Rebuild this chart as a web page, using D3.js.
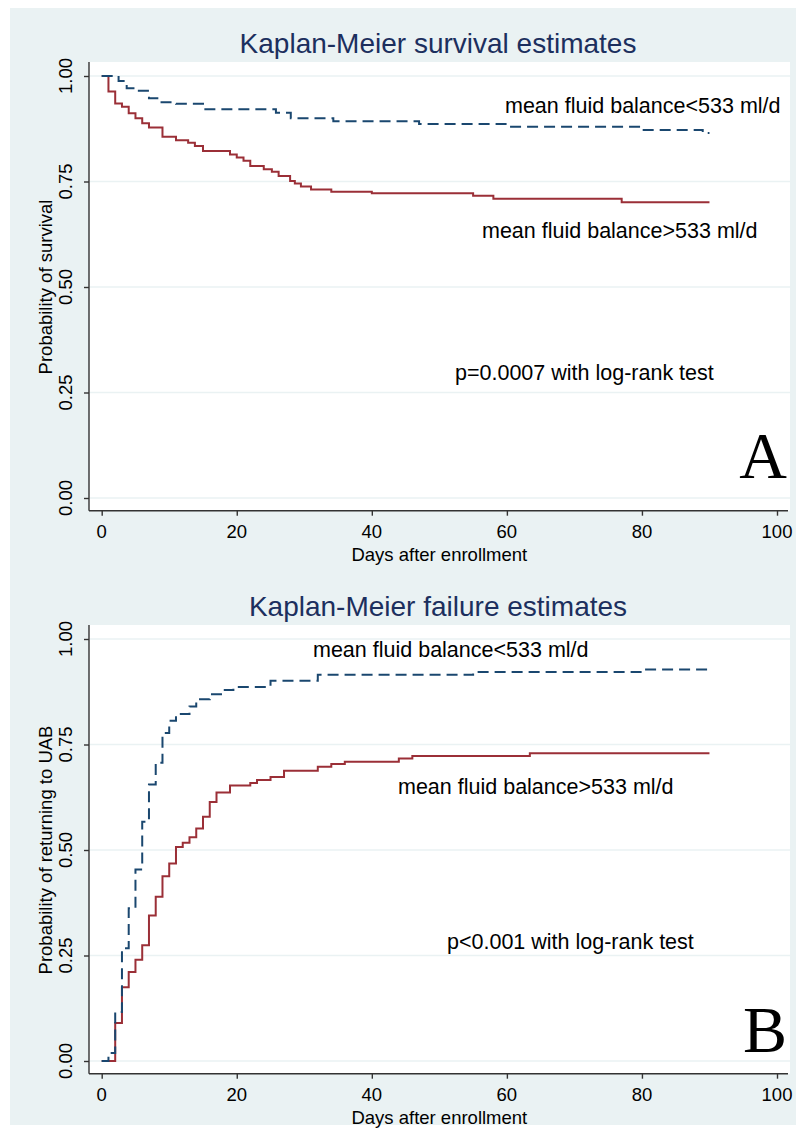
<!DOCTYPE html>
<html lang="en">
<head>
  <meta charset="utf-8">
  <title>Kaplan-Meier estimates</title>
  <script src="https://d3js.org/d3.v7.min.js"></script>
  <style>
    body { margin: 0; background: #fff; }
    text { font-family: "Liberation Sans", Arial, sans-serif; }
    text.letter { font-family: "Liberation Serif", "Times New Roman", serif; }
  </style>
</head>
<body>
<script>
// step points (day, probability); last point = end of follow-up
var survLowDays  = [0, 2.5, 3.7, 5.5, 7, 8.5, 11, 15, 25.8, 28, 34.3, 47, 60, 80, 89, 90];
var survLowProb  = [1, 0.988, 0.971, 0.965, 0.947, 0.938, 0.934, 0.921, 0.913, 0.900, 0.893, 0.886, 0.880, 0.872, 0.865, 0.865];
var survHighDays = [0, 1, 2, 3, 4, 5, 6, 7, 9, 11, 12.8, 13.8, 15, 19, 20, 21, 22, 24, 25.2, 26.2, 27.9, 28.6, 29.5, 31, 34, 40, 55, 58, 77, 90];
var survHighProb = [1, 0.963, 0.935, 0.927, 0.912, 0.900, 0.888, 0.878, 0.856, 0.848, 0.842, 0.834, 0.822, 0.814, 0.807, 0.799, 0.787, 0.779, 0.773, 0.763, 0.751, 0.745, 0.738, 0.731, 0.726, 0.722, 0.716, 0.709, 0.701, 0.701];

var failLowDays  = [0, 1, 2, 3, 4, 5, 6, 7, 8, 9, 10, 11, 13, 14, 16, 18, 19.5, 25, 32, 55, 80, 90];
var failLowProb  = [0, 0.019, 0.116, 0.267, 0.362, 0.454, 0.567, 0.655, 0.707, 0.777, 0.806, 0.822, 0.840, 0.857, 0.869, 0.879, 0.886, 0.901, 0.915, 0.922, 0.928, 0.928];
var failHighDays = [0, 2, 3, 4, 5, 6, 7, 8, 9, 10, 11, 12, 13, 14, 15, 16, 17, 19, 22, 23, 25, 27, 32, 34, 36, 44, 46, 63.4, 90];
var failHighProb = [0, 0.090, 0.175, 0.211, 0.240, 0.274, 0.345, 0.389, 0.438, 0.468, 0.507, 0.517, 0.530, 0.551, 0.579, 0.614, 0.636, 0.653, 0.659, 0.666, 0.673, 0.688, 0.697, 0.704, 0.709, 0.717, 0.723, 0.729, 0.729];

var xTicks = [0, 20, 40, 60, 80, 100];
var yTicks = [0, 0.25, 0.5, 0.75, 1];
var yTickLabels = ["0.00", "0.25", "0.50", "0.75", "1.00"];

var W = 796, H = 1131;
var bg = "#eaf2f3", navy = "#1a476f", maroon = "#9b2f37";

var svg = d3.select("body").append("svg")
  .attr("width", W)
  .attr("height", H);

svg.append("rect")
  .attr("x", 10).attr("y", 8)
  .attr("width", W - 10).attr("height", 1117)
  .attr("fill", bg);

function pairs(days, probs) {
  return days.map(function(d, i) { return [d, probs[i]]; });
}

function drawPanel(top, o) {
  var g = svg.append("g").attr("transform", "translate(0," + top + ")");

  var x = d3.scaleLinear().domain([0, 100]).range([101.7, 777]);
  var y = d3.scaleLinear().domain([0, 1]).range([498, 76]);

  // plot region
  g.append("rect")
    .attr("x", 89).attr("y", 62)
    .attr("width", 790 - 89).attr("height", 510.7 - 62)
    .attr("fill", "#fff");

  // grid
  g.selectAll(".grid").data(yTicks).enter().append("line")
    .attr("x1", 90).attr("x2", 790)
    .attr("y1", function(d) { return y(d); })
    .attr("y2", function(d) { return y(d); })
    .attr("stroke", bg).attr("stroke-width", 1.6);

  // title
  g.append("text")
    .attr("x", 438).attr("y", 53)
    .attr("text-anchor", "middle")
    .attr("font-size", 28)
    .attr("fill", "#1c2f5e")
    .text(o.title);

  // y axis
  var yAxis = g.append("g").attr("transform", "translate(89,0)")
    .call(d3.axisLeft(y).tickValues(yTicks).tickSize(5).tickFormat(""));
  yAxis.select(".domain").attr("d", "M0,62V510.7");
  yAxis.selectAll("line, path").attr("stroke", "#333").attr("stroke-width", 1.4);

  g.selectAll(".ylab").data(yTicks).enter().append("text")
    .attr("transform", function(d) { return "translate(72," + y(d) + ") rotate(-90)"; })
    .attr("text-anchor", "middle")
    .attr("font-size", 18.5)
    .text(function(d, i) { return yTickLabels[i]; });

  g.append("text")
    .attr("transform", "translate(52," + y(0.5) + ") rotate(-90)")
    .attr("text-anchor", "middle")
    .attr("font-size", 18.5)
    .text(o.ytitle);

  // x axis
  var xAxis = g.append("g").attr("transform", "translate(0,510.7)")
    .call(d3.axisBottom(x).tickValues(xTicks).tickSize(5).tickFormat(""));
  xAxis.select(".domain").attr("d", "M89,0H788");
  xAxis.selectAll("line, path").attr("stroke", "#333").attr("stroke-width", 1.4);

  g.selectAll(".xlab").data(xTicks).enter().append("text")
    .attr("x", function(d) { return x(d); })
    .attr("y", 538)
    .attr("text-anchor", "middle")
    .attr("font-size", 18.5)
    .text(function(d) { return d; });

  g.append("text")
    .attr("x", x(50)).attr("y", 561)
    .attr("text-anchor", "middle")
    .attr("font-size", 18.5)
    .text("Days after enrollment");

  // curves
  var line = d3.line()
    .x(function(d) { return x(d[0]); })
    .y(function(d) { return y(d[1]); })
    .curve(d3.curveStepAfter);

  g.append("path")
    .attr("d", line(o.high))
    .attr("fill", "none")
    .attr("stroke", maroon)
    .attr("stroke-width", 2);

  g.append("path")
    .attr("d", line(o.low))
    .attr("fill", "none")
    .attr("stroke", navy)
    .attr("stroke-width", 2)
    .attr("stroke-dasharray", "11,6");

  // annotations
  o.notes.forEach(function(n) {
    g.append("text")
      .attr("x", n[0]).attr("y", n[1])
      .attr("font-size", 21.5)
      .text(n[2]);
  });

  g.append("text")
    .attr("class", "letter")
    .attr("x", 787).attr("y", o.letterY)
    .attr("text-anchor", "end")
    .attr("font-size", 66)
    .text(o.letter);
}

drawPanel(0, {
  title: "Kaplan-Meier survival estimates",
  ytitle: "Probability of survival",
  low: pairs(survLowDays, survLowProb),
  high: pairs(survHighDays, survHighProb),
  notes: [
    [505, 113, "mean fluid balance<533 ml/d"],
    [482, 238, "mean fluid balance>533 ml/d"],
    [455, 380, "p=0.0007 with log-rank test"]
  ],
  letter: "A",
  letterY: 478
});

drawPanel(563, {
  title: "Kaplan-Meier failure estimates",
  ytitle: "Probability of returning to UAB",
  low: pairs(failLowDays, failLowProb),
  high: pairs(failHighDays, failHighProb),
  notes: [
    [313, 94, "mean fluid balance<533 ml/d"],
    [398, 231, "mean fluid balance>533 ml/d"],
    [447, 386, "p<0.001 with log-rank test"]
  ],
  letter: "B",
  letterY: 489
});
</script>
</body>
</html>
